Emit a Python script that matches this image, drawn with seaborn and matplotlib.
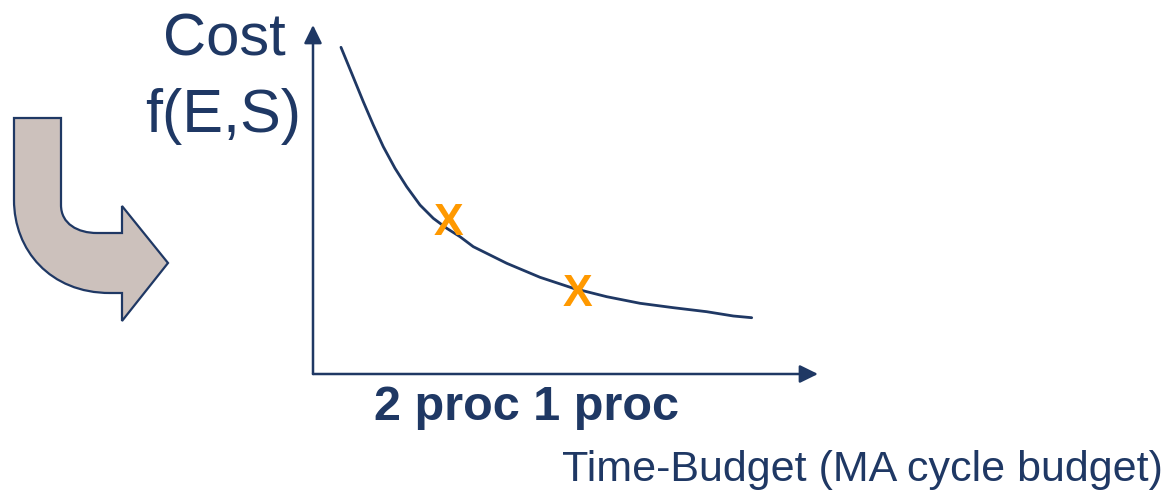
import numpy as np
import pandas as pd
import matplotlib
matplotlib.use("Agg")
import matplotlib.pyplot as plt
from matplotlib.path import Path
from matplotlib.patches import PathPatch
import seaborn as sns

# Cost curve over the time budget (arbitrary units, 0-10 on both axes)
budget = [0.554, 0.766, 0.996, 1.194, 1.392, 1.624, 1.855, 2.119, 2.382, 2.648,
          2.911, 3.174, 3.836, 4.495, 5.154, 5.816, 6.475, 7.135, 7.796, 8.323, 8.687]
cost = [9.361, 8.616, 7.802, 7.135, 6.513, 5.894, 5.367, 4.842, 4.461, 4.175,
        3.934, 3.648, 3.172, 2.771, 2.456, 2.215, 2.026, 1.900, 1.785, 1.662, 1.613]

# Chosen operating points (2 processors / 1 processor)
point_budget = [2.673, 5.228]
point_cost = [4.441, 2.393]
point_labels = ["X", "X"]

y_label = "Cost\nf(E,S)"
proc_label = "2 proc 1 proc"
x_label = "Time-Budget (MA cycle budget)"

NAVY = "#1F3864"
ORANGE = "#FF9900"
ARROW_FILL = "#CCC1BC"

sns.set_theme(style="white")
plt.rcParams["font.family"] = ["Liberation Sans", "DejaVu Sans"]

W, H, DPI = 1172, 492, 100
fig = plt.figure(figsize=(W / DPI, H / DPI), dpi=DPI)
fig.patch.set_facecolor("white")

# Plot area: origin at pixel (313, 374), x arrow tip at 818, y arrow tip at 25
left, right, top, bottom = 313, 818, 25, 374
ax = fig.add_axes([left / W, (H - bottom) / H, (right - left) / W, (bottom - top) / H])
ax.set_xlim(0, 10)
ax.set_ylim(0, 10)
ax.axis("off")

df = pd.DataFrame({"budget": budget, "cost": cost})
sns.lineplot(data=df, x="budget", y="cost", ax=ax, color=NAVY, lw=2.0,
             sort=False, estimator=None)

# Axes drawn as arrows
arrow_style = "-|>,head_length=0.55,head_width=0.27"
for end in [(1, 0), (0, 1)]:
    ax.annotate("", xy=end, xytext=(0, 0), xycoords="axes fraction",
                textcoords="axes fraction",
                arrowprops=dict(arrowstyle=arrow_style, mutation_scale=20,
                                color=NAVY, lw=1.8, shrinkA=0, shrinkB=0),
                annotation_clip=False)

for bx, cy, lab in zip(point_budget, point_cost, point_labels):
    ax.text(bx, cy, lab, color=ORANGE, fontsize=32, fontweight="bold",
            ha="center", va="center_baseline", zorder=5)

# Overlay in pixel coordinates for labels and the bent arrow
deco = fig.add_axes([0, 0, 1, 1], zorder=-1)
deco.set_xlim(0, W)
deco.set_ylim(H, 0)
deco.axis("off")

deco.text(224, 55, "Cost", fontsize=43, color=NAVY, ha="center", va="baseline")
deco.text(223, 132, "f(E,S)", fontsize=44, color=NAVY, ha="center", va="baseline")
deco.text(526, 420, proc_label, fontsize=35, fontweight="bold", color=NAVY,
          ha="center", va="baseline")
deco.text(1163, 481, x_label, fontsize=31, color=NAVY, ha="right", va="baseline")

verts = [
    (14, 118), (61, 118), (61, 205),
    (61, 224), (78, 233), (97, 233),
    (122, 233), (122, 206), (168, 263), (122, 321), (122, 293), (110, 293),
    (50, 293), (14, 250), (14, 200),
    (14, 118),
]
codes = [
    Path.MOVETO, Path.LINETO, Path.LINETO,
    Path.CURVE4, Path.CURVE4, Path.CURVE4,
    Path.LINETO, Path.LINETO, Path.LINETO, Path.LINETO, Path.LINETO, Path.LINETO,
    Path.CURVE4, Path.CURVE4, Path.CURVE4,
    Path.CLOSEPOLY,
]
deco.add_patch(PathPatch(Path(verts, codes), facecolor=ARROW_FILL,
                         edgecolor=NAVY, lw=1.6, joinstyle="miter"))

fig.savefig("out.png", dpi=DPI, facecolor="white")
